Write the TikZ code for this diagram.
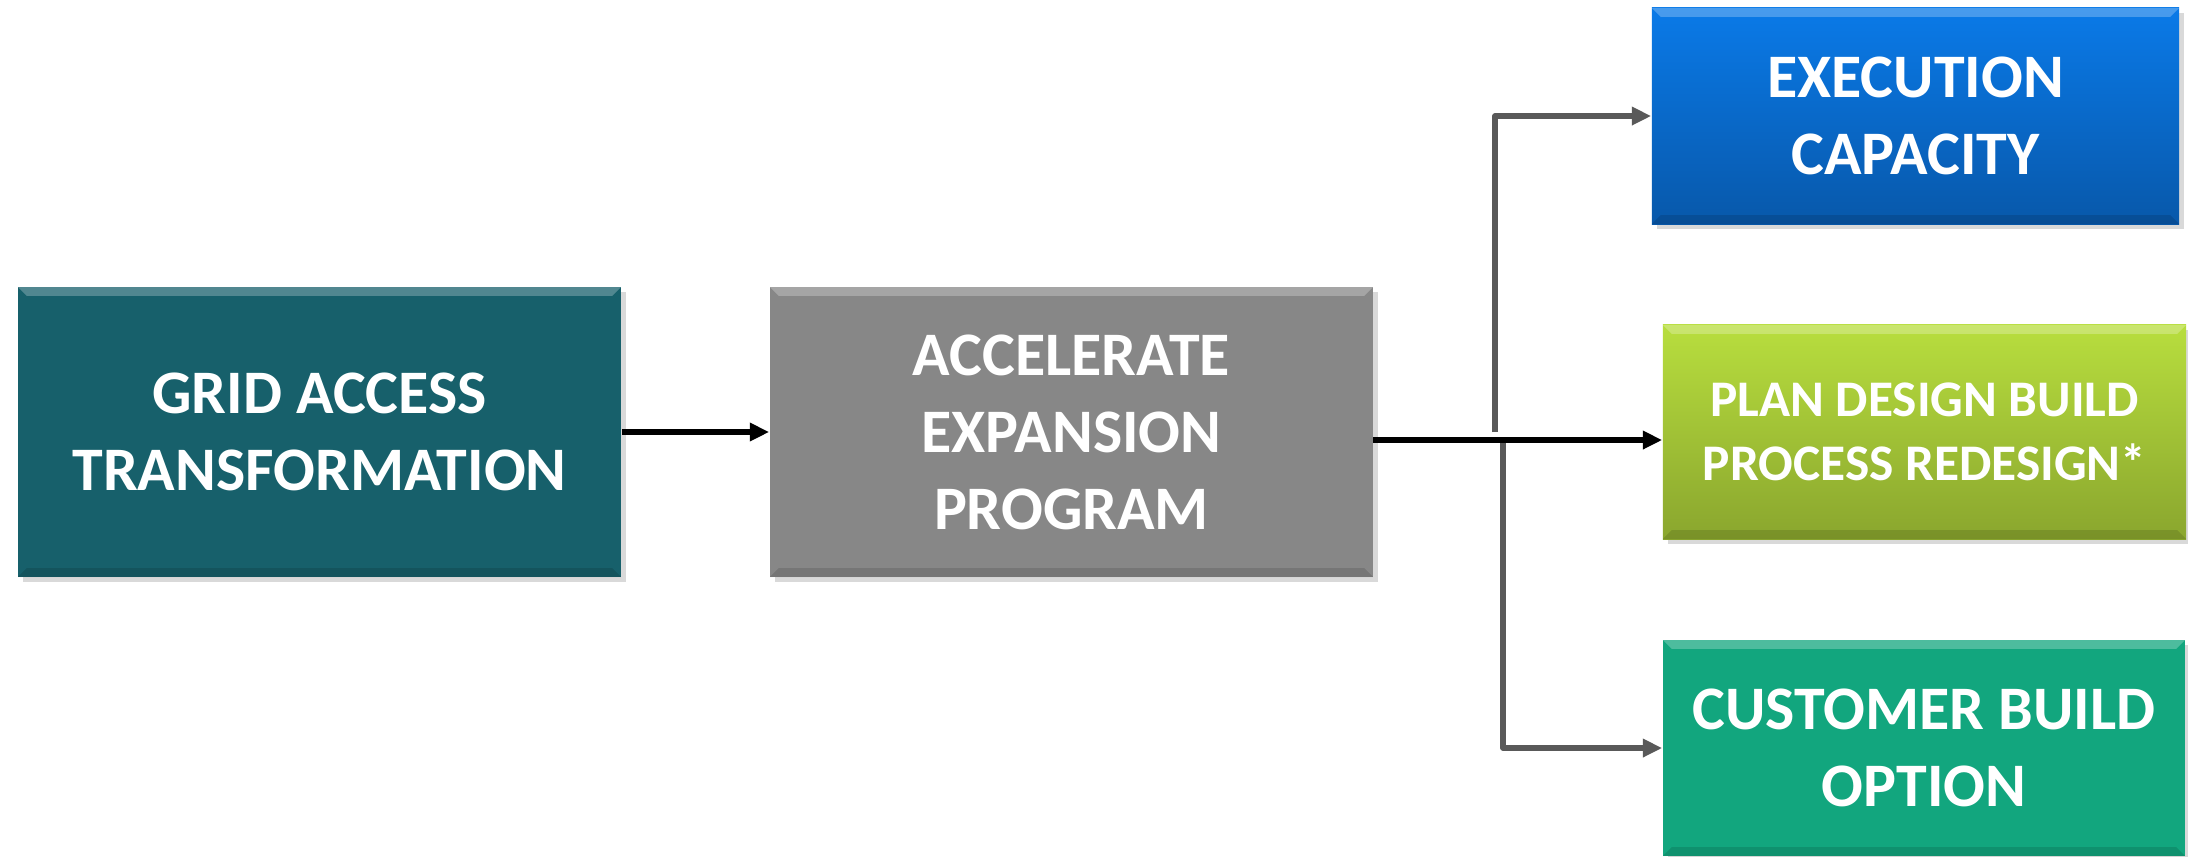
\documentclass[tikz,border=0pt]{standalone}
\usepackage{fontspec}
\setmainfont{Carlito}
\usetikzlibrary{arrows.meta,shadows}
\definecolor{gridteal}{RGB}{23,96,107}
\definecolor{accgray}{RGB}{135,135,135}
\definecolor{exectop}{RGB}{10,122,232}
\definecolor{execbot}{RGB}{8,88,170}
\definecolor{plantop}{RGB}{184,222,62}
\definecolor{planbot}{RGB}{138,166,46}
\definecolor{custgreen}{RGB}{18,166,126}
\definecolor{linkgray}{RGB}{89,89,89}
\begin{document}
\begin{tikzpicture}[x=0.01cm, y=-0.01cm, line join=round, >={Triangle[length=5.5pt,width=5pt]},
	box/.style={text=white, align=center, font=\bfseries\fontsize{17.6pt}{21.9pt}\selectfont,
		drop shadow={shadow xshift=1.5pt, shadow yshift=-1.5pt, opacity=.3},
		path picture={\fill[white,opacity=.25] (path picture bounding box.north west) -- (path picture bounding box.north east) -- ++(-9,9) -- ([shift={(9,9)}]path picture bounding box.north west) -- cycle;
			\fill[black,opacity=.12] (path picture bounding box.south west) -- (path picture bounding box.south east) -- ++(-9,-9) -- ([shift={(9,-9)}]path picture bounding box.south west) -- cycle;}},
	main/.style={->, line width=1.7pt, black},
	link/.style={->, line width=1.5pt, linkgray}]
	\useasboundingbox (0,0) rectangle (2188,856);
	\node[box, fill=gridteal, minimum width=6.03cm, minimum height=2.9cm] (grid) at (319.5,432) {GRID ACCESS\\TRANSFORMATION};
	\node[box, fill=accgray, minimum width=6.03cm, minimum height=2.9cm] (accel) at (1071.5,432) {ACCELERATE\\EXPANSION\\PROGRAM};
	\node[box, top color=exectop, bottom color=execbot, minimum width=5.27cm, minimum height=2.16cm] (exec) at (1915.5,116) {EXECUTION\\CAPACITY};
	\node[box, top color=plantop, bottom color=planbot, minimum width=5.23cm, minimum height=2.14cm,
		font=\bfseries\fontsize{14.6pt}{18.2pt}\selectfont] (plan) at (1924.5,432) {PLAN DESIGN BUILD\\PROCESS REDESIGN*};
	\node[box, fill=custgreen, minimum width=5.22cm, minimum height=2.16cm] (cust) at (1924,748) {CUSTOMER BUILD\\OPTION};
	% fork after the program box
	\coordinate (out) at (1373,440);
	\coordinate (up) at (1495,432);
	\coordinate (dn) at (1503,442);
	\draw[link] (up) |- (exec.west);
	\draw[link] (dn) |- (cust.west);
	\draw[main] (grid) -- (accel);
	\draw[main] (out) -- (out -| plan.west);
\end{tikzpicture}
\end{document}
